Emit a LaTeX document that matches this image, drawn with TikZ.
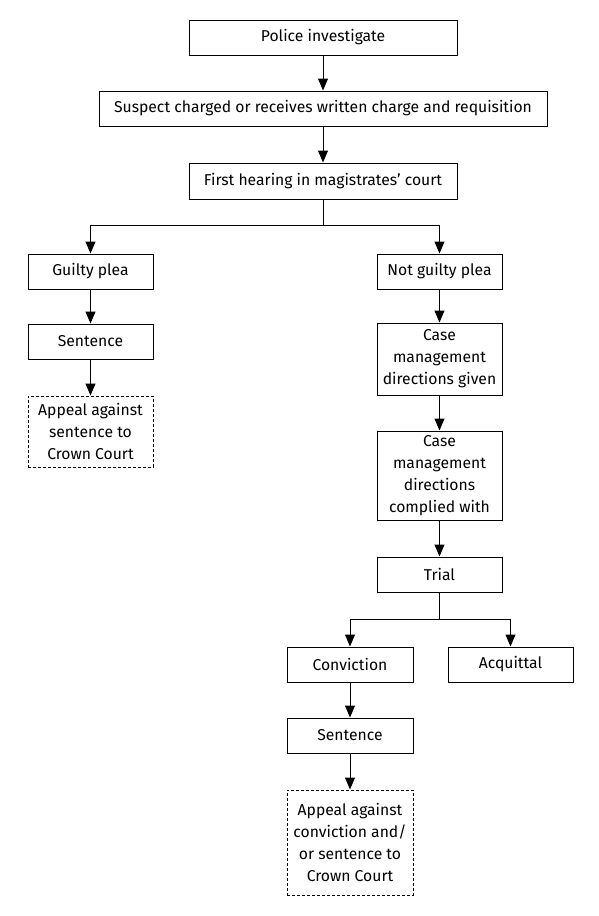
\documentclass[tikz,border=0pt]{standalone}
\usepackage{fontspec}
\setmainfont{Fira Sans}
\usetikzlibrary{arrows.meta}
\begin{document}
\begin{tikzpicture}[x=1pt,y=-1pt,
  box/.style={draw,line width=1pt,minimum width=125pt,minimum height=35pt,align=center,inner sep=2pt,font=\fontsize{15.7}{22}\selectfont},
  dbox/.style={box,dash pattern=on 3pt off 2pt},
  arr/.style={line width=1pt,-{Triangle[length=12pt,width=10pt]}},
  ln/.style={line width=1pt}]
\useasboundingbox (0,0) rectangle (598,916);
\node[box,minimum width=268pt] (police) at (323,37.5) {Police investigate};
\node[box,minimum width=448pt] (suspect) at (323,108.5) {Suspect charged or receives written charge and requisition};
\node[box,minimum width=268pt,minimum height=36pt] (first) at (323,181) {First hearing in magistrates’ court};
\node[box] (guilty) at (90.5,271.5) {Guilty plea};
\node[box] (notguilty) at (439.5,271.5) {Not guilty plea};
\node[box] (sentL) at (90.5,341.5) {Sentence};
\node[dbox,minimum height=71pt] (appealL) at (90.5,431.5) {Appeal against\\sentence to\\Crown Court};
\node[box,minimum height=72pt] (cmdg) at (439.5,359) {Case\\management\\directions given};
\node[box,minimum height=89pt] (cmdc) at (439.5,475.5) {Case\\management\\directions\\complied with};
\node[box] (trial) at (439.5,574.5) {Trial};
\node[box,minimum width=126pt] (conv) at (350,664.5) {Conviction};
\node[box] (acq) at (510.5,664.5) {Acquittal};
\node[box,minimum width=126pt] (sentR) at (350,735.5) {Sentence};
\node[dbox,minimum width=126pt,minimum height=105pt] (appealR) at (350,842.5) {Appeal against\\conviction and/\\or sentence to\\Crown Court};
\coordinate (b1) at (323,225);
\coordinate (b2) at (439.5,619);
\draw[arr] (police) -- (suspect);
\draw[arr] (suspect) -- (first);
\draw[ln] (first.south) -- (b1);
\draw[arr] (b1) -| (guilty.north);
\draw[arr] (b1) -| (notguilty.north);
\draw[arr] (guilty) -- (sentL);
\draw[arr] (sentL) -- (appealL);
\draw[arr] (notguilty) -- (cmdg);
\draw[arr] (cmdg) -- (cmdc);
\draw[arr] (cmdc) -- (trial);
\draw[ln] (trial.south) -- (b2);
\draw[arr] (b2) -| (conv.north);
\draw[arr] (b2) -| (acq.north);
\draw[arr] (conv) -- (sentR);
\draw[arr] (sentR) -- (appealR);
\end{tikzpicture}
\end{document}
